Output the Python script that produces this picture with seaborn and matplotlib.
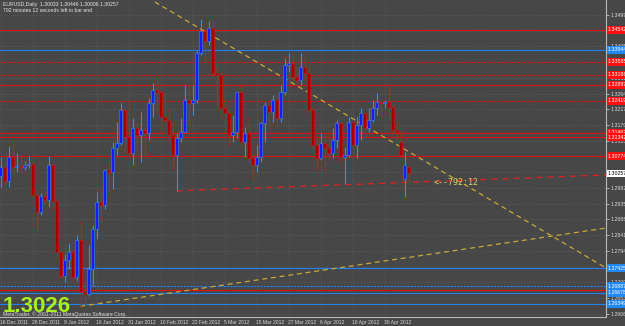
import numpy as np
import pandas as pd
import matplotlib
matplotlib.use("Agg")
import matplotlib.pyplot as plt
import seaborn as sns

# ---------------- data ----------------
open_ = [1.3018, 1.3045, 1.3003, 1.3075, 1.3045, 1.3049, 1.3045, 1.3050, 1.3052, 1.2960, 1.2910,
         1.2957, 1.2945, 1.3050, 1.2942, 1.2790,
         1.2720, 1.2765, 1.2790, 1.2715, 1.2825,
         1.2670, 1.2665, 1.2740, 1.2860, 1.2940,
         1.2930, 1.3035, 1.3030, 1.3100, 1.3115,
         1.3215, 1.3135, 1.3085, 1.3160, 1.3140,
         1.3155, 1.3145, 1.3235, 1.3275, 1.3270,
         1.3195, 1.3185, 1.3140, 1.3080, 1.3130,
         1.3150, 1.3245, 1.3235, 1.3245, 1.3385,
         1.3450, 1.3420, 1.3460, 1.3325, 1.3320,
         1.3220, 1.3205, 1.3140, 1.3150, 1.3270,
         1.3120, 1.3145, 1.3070, 1.3050, 1.3075,
         1.3175, 1.3230, 1.3210, 1.3245, 1.3190,
         1.3270, 1.3350, 1.3355, 1.3315, 1.3305,
         1.3345, 1.3325, 1.3215, 1.3110, 1.3070,
         1.3115, 1.3100, 1.3085, 1.3125, 1.3175,
         1.3075, 1.3080, 1.3180, 1.3110, 1.3170,
         1.3205, 1.3160, 1.3185, 1.3220, 1.3240,
         1.3235, 1.3240, 1.3225, 1.3155, 1.3120,
         1.3010, 1.3045]
high = [1.3073, 1.3065, 1.3108, 1.3125, 1.3085, 1.3080, 1.3063, 1.3078, 1.3065, 1.2980, 1.2968,
        1.2973, 1.3078, 1.3056, 1.2948, 1.2810,
        1.2785, 1.2817, 1.2800, 1.2841, 1.2879,
        1.2700, 1.2810, 1.2870, 1.2970, 1.2980,
        1.3040, 1.3060, 1.3120, 1.3180, 1.3235,
        1.3220, 1.3235, 1.3190, 1.3180, 1.3210,
        1.3160, 1.3250, 1.3295, 1.3320, 1.3275,
        1.3270, 1.3215, 1.3180, 1.3145, 1.3190,
        1.3290, 1.3290, 1.3290, 1.3390, 1.3486,
        1.3455, 1.3480, 1.3486, 1.3350, 1.3330,
        1.3250, 1.3215, 1.3200, 1.3270, 1.3290,
        1.3165, 1.3190, 1.3085, 1.3110, 1.3180,
        1.3240, 1.3240, 1.3260, 1.3260, 1.3290,
        1.3370, 1.3385, 1.3380, 1.3345, 1.3385,
        1.3380, 1.3345, 1.3225, 1.3130, 1.3145,
        1.3140, 1.3140, 1.3160, 1.3185, 1.3180,
        1.3105, 1.3195, 1.3185, 1.3195, 1.3220,
        1.3210, 1.3220, 1.3245, 1.3265, 1.3245,
        1.3245, 1.3285, 1.3230, 1.3180, 1.3155,
        1.3090, 1.3047]
low = [1.2985, 1.2990, 1.2985, 1.3028, 1.3030, 1.3030, 1.3037, 1.3043, 1.2945, 1.2858, 1.2900,
       1.2935, 1.2925, 1.2918, 1.2780, 1.2713,
       1.2700, 1.2740, 1.2705, 1.2705, 1.2624,
       1.2625, 1.2660, 1.2690, 1.2830, 1.2880,
       1.2920, 1.2960, 1.2980, 1.3080, 1.3110,
       1.3085, 1.3075, 1.3050, 1.3090, 1.3060,
       1.3080, 1.3125, 1.3195, 1.3205, 1.3145,
       1.3180, 1.3115, 1.3040, 1.2973, 1.3120,
       1.3150, 1.3170, 1.3200, 1.3235, 1.3380,
       1.3360, 1.3410, 1.3320, 1.3225, 1.3195,
       1.3175, 1.3110, 1.3120, 1.3130, 1.3105,
       1.3075, 1.3055, 1.3004, 1.3030, 1.3060,
       1.3120, 1.3155, 1.3180, 1.3160, 1.3180,
       1.3260, 1.3330, 1.3300, 1.3285, 1.3290,
       1.3305, 1.3210, 1.3095, 1.3035, 1.3065,
       1.3035, 1.3065, 1.3070, 1.3100, 1.3060,
       1.2995, 1.3075, 1.3100, 1.3070, 1.3125,
       1.3150, 1.3150, 1.3180, 1.3200, 1.3195,
       1.3220, 1.3195, 1.3145, 1.3125, 1.3070,
       1.2955, 1.3000]
close = [1.3045, 1.3003, 1.3075, 1.3045, 1.3049, 1.3045, 1.3050, 1.3052, 1.2960, 1.2910, 1.2957,
         1.2945, 1.3050, 1.2942, 1.2790, 1.2720,
         1.2765, 1.2790, 1.2715, 1.2825, 1.2670,
         1.2665, 1.2740, 1.2860, 1.2940, 1.2930,
         1.3035, 1.3030, 1.3100, 1.3115, 1.3215,
         1.3135, 1.3085, 1.3160, 1.3140, 1.3155,
         1.3145, 1.3235, 1.3275, 1.3270, 1.3195,
         1.3185, 1.3140, 1.3080, 1.3130, 1.3150,
         1.3245, 1.3235, 1.3245, 1.3385, 1.3450,
         1.3420, 1.3460, 1.3325, 1.3320, 1.3220,
         1.3205, 1.3140, 1.3150, 1.3270, 1.3120,
         1.3145, 1.3070, 1.3050, 1.3075, 1.3175,
         1.3230, 1.3210, 1.3245, 1.3190, 1.3270,
         1.3350, 1.3355, 1.3315, 1.3305, 1.3345,
         1.3325, 1.3215, 1.3110, 1.3070, 1.3115,
         1.3100, 1.3085, 1.3125, 1.3175, 1.3075,
         1.3080, 1.3180, 1.3110, 1.3170, 1.3205,
         1.3160, 1.3185, 1.3220, 1.3240, 1.3235,
         1.3240, 1.3225, 1.3155, 1.3150, 1.3080,
         1.3050, 1.3026]

date_labels = ["16 Dec 2011", "28 Dec 2011", "9 Jan 2012", "19 Jan 2012", "31 Jan 2012",
               "10 Feb 2012", "22 Feb 2012", "5 Mar 2012", "15 Mar 2012", "27 Mar 2012",
               "6 Apr 2012", "18 Apr 2012", "30 Apr 2012"]
price_ticks = ["1.34990", "1.34520", "1.34050", "1.33580", "1.33110", "1.32640", "1.32170",
               "1.31700", "1.31230", "1.30760", "1.30290", "1.29820", "1.29350", "1.28880",
               "1.28410", "1.27940", "1.27470", "1.27000", "1.26530", "1.26060"]

red_levels = [1.34542, 1.33585, 1.33196, 1.32897, 1.32419, 1.31462, 1.31342, 1.30774, 1.26767]
red_styles = ["solid", "dotted", "dotted", "solid", "dotted", "solid", "solid", "solid", "solid"]
blue_levels = [1.33944, 1.27425, 1.26887, 1.26678, 1.26349]
blue_styles = ["solid", "solid", "dotted", "solid", "solid"]
trend_down = ([38.6, 151.4], [1.35379, 1.27425])
trend_up = ([20.0, 151.4], [1.26280, 1.28621])
trend_red = ([44.0, 151.4], [1.29730, 1.30206])
bid = 1.30257
header1 = "EURUSD,Daily  1.30033 1.30446 1.30006 1.30257"
header2 = "792 minutes 12 seconds left to bar end"

# ---------------- style ----------------
sns.set_style("dark")
BG = "#474747"
plt.rcParams["font.family"] = ["Liberation Sans", "DejaVu Sans"]

df = pd.DataFrame({"o": open_, "h": high, "l": low, "c": close})
df["i"] = np.arange(len(df))
df["bull"] = df["c"] >= df["o"]

fig = plt.figure(figsize=(6.25, 3.26), dpi=100)
fig.patch.set_facecolor(BG)
ax = fig.add_axes([0, 9 / 326, 606 / 625, 317 / 326])
ax.set_facecolor(BG)

ymax = 1.3499 + 15 * 0.000299
ymin = 1.3499 - 302 * 0.000299
ax.set_ylim(ymin, ymax)
ax.set_xlim(-0.125, 151.375)

# grid
tick_vals = [float(t) for t in price_ticks]
for v in tick_vals:
    ax.axhline(v, color="#666666", lw=0.5, ls=(0, (1, 2)), zorder=0)
for k in range(len(date_labels)):
    ax.axvline(8 * k, color="#666666", lw=0.5, ls=(0, (1, 2)), zorder=0)

# horizontal levels
for v, s in zip(red_levels, red_styles):
    ls = "-" if s == "solid" else (0, (2, 1))
    ax.axhline(v, color="#e01010", lw=0.8, ls=ls, zorder=1)
for v, s in zip(blue_levels, blue_styles):
    ls = "-" if s == "solid" else (0, (2, 1))
    ax.axhline(v, color="#2080f0", lw=0.8, ls=ls, zorder=1)

# trend lines
tl = pd.DataFrame({"x": trend_down[0] + trend_up[0], "y": trend_down[1] + trend_up[1],
                   "g": ["d", "d", "u", "u"]})
sns.lineplot(data=tl, x="x", y="y", units="g", estimator=None, color="#c8a83a",
             lw=0.9, dashes=False, ax=ax, zorder=2, linestyle=(0, (4, 3)))
ax.plot(trend_red[0], trend_red[1], color="#e02020", lw=0.9, ls=(0, (5, 4)), zorder=2)

# candles
bull_body, bull_wick = "#1a1aff", "#3c8ce0"
bear_body, bear_wick = "#a80000", "#d81818"
wc = np.where(df["bull"], bull_wick, bear_wick)
bc = np.where(df["bull"], bull_body, bear_body)
ax.vlines(df["i"], df["l"], df["h"], colors=wc, lw=0.8, zorder=3)
heights = (df["c"] - df["o"]).abs().clip(lower=0.00008)
bottoms = df[["o", "c"]].min(axis=1)
ax.bar(df["i"], heights, bottom=bottoms, width=0.62, color=bc, edgecolor=wc, lw=0.4, zorder=4)

# axes
for s in ["left", "top"]:
    ax.spines[s].set_visible(False)
for s in ["right", "bottom"]:
    ax.spines[s].set_visible(True)
    ax.spines[s].set_color("#b8b8b8")
    ax.spines[s].set_linewidth(0.8)
ax.yaxis.tick_right()
ax.set_yticks(tick_vals)
ax.set_yticklabels(price_ticks)
ax.set_xticks([8 * k for k in range(len(date_labels))])
ax.set_xticklabels(date_labels, ha="left")
ax.tick_params(axis="y", colors="#d8d8d8", labelsize=3.8, length=2, width=0.5, pad=1)
ax.tick_params(axis="x", colors="#d8d8d8", labelsize=3.6, length=2, width=0.5, pad=0.5)
ax.set_xlabel("")
ax.set_ylabel("")
ax.grid(False)

# right-side level labels
ytr = ax.get_yaxis_transform()
def side_label(v, fc, tc):
    ax.text(1.003, v, f"{v:.5f}", transform=ytr, fontsize=3.8, color=tc, va="center",
            ha="left", clip_on=False, zorder=6,
            bbox=dict(boxstyle="square,pad=0.2", fc=fc, ec="none"))
for v in red_levels:
    side_label(v, "#ff1010", "white")
for v in blue_levels:
    side_label(v, "#2088f0", "white")
side_label(bid, "white", "black")

# texts
fig.text(3 / 625, 1 - 2 / 326, header1, fontsize=3.7, color="#e8e8e8", va="top", ha="left")
fig.text(3 / 625, 1 - 8 / 326, header2, fontsize=3.7, color="#e8e8e8", va="top", ha="left")
fig.text(3 / 625, 1 - 312 / 326, "1.3026", fontsize=16, fontweight="bold", color="#a8f020",
         family="Liberation Sans", va="baseline", ha="left")
fig.text(3 / 625, 1 - 316 / 326, "MetaTrader, © 2001-2011 MetaQuotes Software Corp.",
         fontsize=3.7, color="#e0e0e0", va="baseline", ha="left")
ax.text(108.2, 1.2999, "<--792:12", fontsize=6, color="#d8d46a", family="DejaVu Sans Mono",
        va="center", ha="left", zorder=7)

fig.savefig("out.png", dpi=100, facecolor=BG)
